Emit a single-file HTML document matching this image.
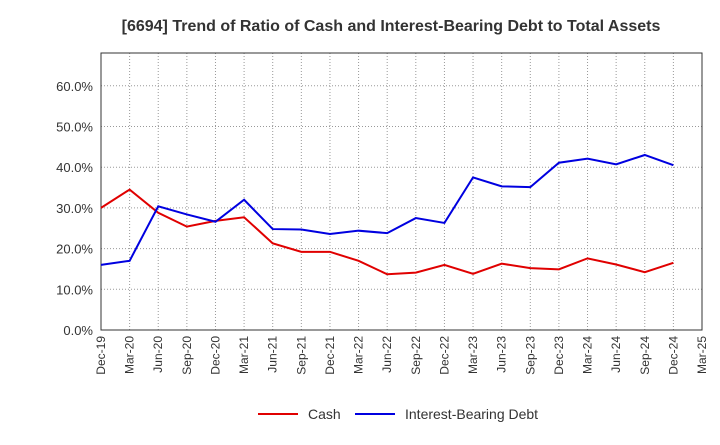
<!DOCTYPE html>
<html><head><meta charset="utf-8"><style>
body{margin:0;background:#fff;font-family:"Liberation Sans",sans-serif}
svg text{font-family:"Liberation Sans",sans-serif}
</style></head><body>
<svg id="c" width="720" height="440">
<text x="391" y="31" text-anchor="middle" font-size="16" font-weight="bold" fill="#333">[6694]  Trend of Ratio of Cash and Interest-Bearing Debt to Total Assets</text>
</svg>
<script>
const categories=["Dec-19","Mar-20","Jun-20","Sep-20","Dec-20","Mar-21","Jun-21","Sep-21","Dec-21","Mar-22","Jun-22","Sep-22","Dec-22","Mar-23","Jun-23","Sep-23","Dec-23","Mar-24","Jun-24","Sep-24","Dec-24","Mar-25"];
const cash=[30.0,34.5,28.8,25.4,26.8,27.7,21.3,19.2,19.2,17.0,13.7,14.1,16.0,13.8,16.3,15.2,14.9,17.6,16.1,14.2,16.5];
const debt=[16.0,17.0,30.4,28.4,26.6,32.0,24.8,24.7,23.6,24.4,23.8,27.5,26.3,37.5,35.3,35.1,41.1,42.1,40.7,43.0,40.5];
const yTicks=[0,10,20,30,40,50,60];
const yTickLabels=["0.0%","10.0%","20.0%","30.0%","40.0%","50.0%","60.0%"];
const NS="http://www.w3.org/2000/svg",svg=document.getElementById('c');
const L=101,R=702,T=53,B=330,yMax=(B-T)/40.7*10;
const x=i=>L+i*(R-L)/(categories.length-1);
const y=v=>B-v/yMax*(B-T);
function mk(t,a,p){const e=document.createElementNS(NS,t);for(const k in a)e.setAttribute(k,a[k]);(p||svg).appendChild(e);return e;}
let e;
categories.forEach((c,i)=>{
 if(i>0&&i<categories.length-1){e=mk('line',{x1:x(i),x2:x(i),y1:T,y2:B,stroke:'#999','stroke-dasharray':'1,2'});
 
 }
 e=mk('text',{transform:`translate(${x(i)+4},${B+6}) rotate(-90)`,'text-anchor':'end','font-size':12,fill:'#333'});
 e.textContent=c;
 
 
});
yTicks.forEach((v,i)=>{
 if(v>0){e=mk('line',{x1:L,x2:R,y1:y(v),y2:y(v),stroke:'#999','stroke-dasharray':'1,2'});
 
 }
 e=mk('text',{x:L-8,y:y(v)+5,'text-anchor':'end','font-size':13,fill:'#333'});
 e.textContent=yTickLabels[i];
 
 
});
e=mk('rect',{x:L,y:T,width:R-L,height:B-T,fill:'none',stroke:'#333'});


function line(d,col,name){
 const p=mk('polyline',{points:d.map((v,i)=>x(i)+','+y(v)).join(' '),fill:'none',stroke:col,'stroke-width':2});
 
 
}
line(cash,'#e00000','cash-line');
line(debt,'#0000e0','debt-line');
function leg(x0,col,txt,name){
 const g=mk('g',{});
 
 
 mk('line',{x1:x0,x2:x0+40,y1:414,y2:414,stroke:col,'stroke-width':2},g);
 const t=mk('text',{x:x0+50,y:419,'font-size':14,fill:'#333'},g);t.textContent=txt;
}
leg(258,'#e00000','Cash','legend-cash');
leg(355,'#0000e0','Interest-Bearing Debt','legend-debt');
</script>
</body></html>
